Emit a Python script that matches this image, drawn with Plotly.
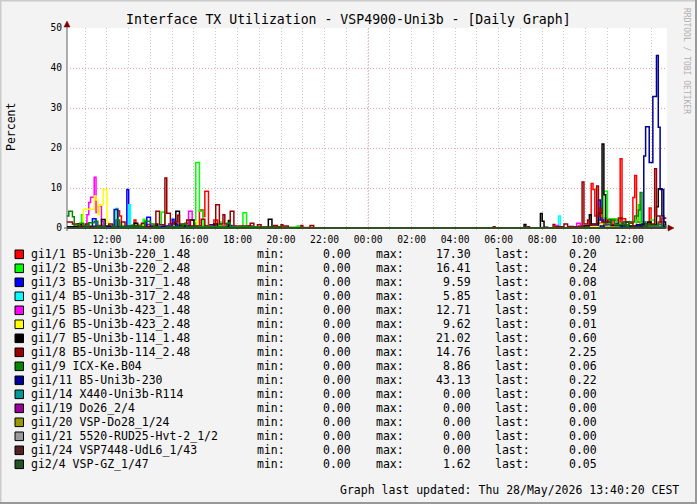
import plotly.graph_objects as go

# ---------------- data ----------------
names = ["gi1/1 B5-Uni3b-220_1.48", "gi1/2 B5-Uni3b-220_2.48", "gi1/3 B5-Uni3b-317_1.48",
         "gi1/4 B5-Uni3b-317_2.48", "gi1/5 B5-Uni3b-423_1.48", "gi1/6 B5-Uni3b-423_2.48",
         "gi1/7 B5-Uni3b-114_1.48", "gi1/8 B5-Uni3b-114_2.48", "gi1/9 ICX-Ke.B04",
         "gi1/11 B5-Uni3b-230", "gi1/14 X440-Uni3b-R114", "gi1/19 Do26_2/4",
         "gi1/20 VSP-Do28_1/24", "gi1/21 5520-RUD25-Hvt-2_1/2", "gi1/24 VSP7448-UdL6_1/43",
         "gi2/4 VSP-GZ_1/47"]
colors = ["#FF0000", "#00FF00", "#0000FF", "#00FFFF", "#FF00FF", "#FFFF00", "#000000", "#990000",
          "#008800", "#000099", "#009999", "#990099", "#999900", "#999999", "#552222", "#225522"]
mins = [0.00] * 16
maxs = [17.30, 16.41, 9.59, 5.85, 12.71, 9.62, 21.02, 14.76, 8.86, 43.13, 0.00, 0.00, 0.00, 0.00, 0.00, 1.62]
lasts = [0.20, 0.24, 0.08, 0.01, 0.59, 0.01, 0.60, 2.25, 0.06, 0.22, 0.00, 0.00, 0.00, 0.00, 0.00, 0.05]

gi1_1 = [("27 10:10",0.3),("27 10:30",0.8),("27 10:40",0.3),("27 11:35",0.6),("27 11:50",0.3),("27 12:30",4.3),
         ("27 12:35",3.0),("27 12:40",0.4),("27 13:15",2.0),("27 13:20",0.5),("27 13:50",0.9),("27 14:00",0.3),
         ("27 14:50",1.0),("27 15:00",0.4),("27 15:35",1.2),("27 15:45",0.4),("27 16:15",4.5),("27 16:25",2.9),
         ("27 16:30",9.2),("27 16:40",0.8),("27 16:55",2.0),("27 17:05",0.5),("27 17:30",1.0),("27 17:40",0.3),
         ("27 18:30",0.5),("27 18:40",0.2),("27 19:50",0.3),("27 20:00",0.1),("27 21:30",0.0),("28 09:40",0.5),
         ("28 09:55",0.2),("28 10:15",11.1),("28 10:20",9.6),("28 10:25",3.0),("28 10:30",1.2),("28 10:45",2.5),
         ("28 10:55",0.8),("28 11:15",2.0),("28 11:30",0.6),("28 11:35",17.3),("28 11:40",2.3),("28 11:50",0.6),
         ("28 12:00",1.2),("28 12:10",7.6),("28 12:15",13.1),("28 12:20",1.5),("28 12:30",0.5),("28 12:55",5.0),
         ("28 13:00",0.8),("28 13:20",1.5),("28 13:30",0.6),("28 13:40",0.2)]
gi1_2 = [("27 10:10",0.2),("27 10:50",3.3),("27 10:55",0.5),("27 11:30",0.3),("27 12:20",0.8),("27 12:25",4.9),
         ("27 12:30",0.5),("27 13:05",0.8),("27 13:40",2.2),("27 13:45",0.3),("27 14:30",4.0),("27 14:40",0.5),
         ("27 15:20",0.8),("27 15:30",0.3),("27 16:05",16.4),("27 16:15",4.2),("27 16:25",0.6),("27 17:10",1.5),
         ("27 17:15",0.3),("27 18:15",3.8),("27 18:25",0.2),("27 20:45",0.5),("27 20:50",0.0),("28 09:50",0.3),
         ("28 10:35",2.0),("28 10:50",9.2),("28 11:00",2.3),("28 11:25",1.2),("28 11:45",0.5),("28 12:20",2.0),
         ("28 12:25",5.8),("28 12:30",1.0),("28 13:00",2.0),("28 13:10",0.8),("28 13:40",0.24)]
gi1_3 = [("27 10:10",0.2),("27 10:40",1.0),("27 10:50",0.3),("27 11:20",2.3),("27 11:30",0.4),("27 12:20",4.6),
         ("27 12:30",0.3),("27 12:55",9.6),("27 13:00",0.4),("27 13:50",2.7),("27 14:00",0.5),("27 15:00",2.2),
         ("27 15:05",1.0),("27 15:15",0.3),("27 16:45",0.8),("27 16:55",0.2),("27 17:35",0.6),("27 17:45",0.1),
         ("27 19:00",0.0),("28 09:15",0.4),("28 09:25",0.0),("28 10:00",0.5),("28 10:35",7.0),("28 10:40",2.0),
         ("28 10:50",0.5),("28 11:20",1.0),("28 11:30",0.3),("28 12:20",0.6),("28 12:40",0.3),("28 13:40",0.08)]
gi1_4 = [("27 10:10",0.1),("27 11:00",0.5),("27 11:10",0.1),("27 13:00",5.8),("27 13:05",0.5),("27 13:15",0.1),
         ("27 14:20",0.6),("27 14:30",0.1),("27 16:10",0.5),("27 16:20",0.1),("27 18:00",0.0),("28 08:45",3.0),
         ("28 08:50",0.0),("28 10:00",0.2),("28 11:00",0.5),("28 11:10",0.1),("28 13:40",0.01)]
gi1_5 = [("27 10:10",0.1),("27 11:05",3.3),("27 11:10",6.4),("27 11:15",7.7),("27 11:25",12.7),("27 11:30",3.9),
         ("27 11:35",5.4),("27 11:45",1.7),("27 11:50",0.3),("27 13:10",0.5),("27 13:20",0.1),("27 15:45",4.2),
         ("27 15:55",2.0),("27 16:00",0.3),("27 16:30",0.1),("27 18:00",0.0),("28 08:40",0.6),("28 08:45",0.0),
         ("28 09:35",1.2),("28 09:45",0.2),("28 10:50",0.5),("28 11:00",0.1),("28 13:20",0.8),("28 13:30",0.3),
         ("28 13:40",0.59)]
gi1_6 = [("27 10:10",0.1),("27 10:55",4.7),("27 11:25",8.0),("27 11:30",7.0),("27 11:35",3.3),("27 11:40",5.8),
         ("27 11:50",9.6),("27 12:00",1.5),("27 12:05",0.3),("27 13:30",0.6),("27 13:40",0.1),("27 16:00",1.6),
         ("27 16:10",0.3),("27 16:40",0.5),("27 16:50",0.1),("27 18:00",0.0),("28 09:40",0.3),("28 10:40",1.0),
         ("28 10:50",0.3),("28 11:20",0.6),("28 11:30",0.1),("28 13:40",0.01)]
gi1_7 = [("27 10:10",0.3),("27 10:40",1.0),("27 10:50",0.2),("27 11:45",2.1),("27 11:55",0.5),("27 12:10",0.2),
         ("27 13:15",1.2),("27 13:25",0.3),("27 14:15",1.0),("27 14:20",0.3),("27 15:10",4.2),("27 15:20",0.5),
         ("27 15:50",2.0),("27 16:00",0.3),("27 16:55",1.0),("27 17:05",0.3),("27 17:35",1.9),("27 17:40",0.3),
         ("27 18:30",0.4),("27 18:40",0.1),("27 19:25",2.2),("27 19:35",0.2),("27 20:00",0.0),("28 07:10",0.9),
         ("28 07:15",0.0),("28 07:55",3.6),("28 08:00",1.7),("28 08:05",0.2),("28 08:15",0.0),("28 09:55",0.5),
         ("28 10:10",3.3),("28 10:15",1.0),("28 10:35",3.7),("28 10:45",21.0),("28 10:50",8.3),("28 10:55",1.5),
         ("28 11:10",0.6),("28 11:50",1.5),("28 12:00",0.5),("28 12:35",1.0),("28 12:50",1.5),("28 13:00",0.8),
         ("28 13:15",5.3),("28 13:20",9.8),("28 13:30",3.0),("28 13:35",1.5),("28 13:40",0.6)]
gi1_8 = [("27 10:10",1.5),("27 10:25",1.0),("27 10:40",0.5),("27 11:00",1.0),("27 11:10",0.4),("27 12:05",1.0),
         ("27 12:15",0.3),("27 12:40",1.5),("27 12:50",0.5),("27 13:35",1.2),("27 13:45",0.4),("27 14:15",4.2),
         ("27 14:25",0.8),("27 14:40",12.5),("27 14:45",3.7),("27 14:55",1.0),("27 15:05",1.5),("27 15:15",3.2),
         ("27 15:20",1.0),("27 15:40",2.0),("27 15:50",0.5),("27 16:20",2.2),("27 16:30",0.5),("27 17:00",5.8),
         ("27 17:10",1.0),("27 17:20",3.3),("27 17:25",1.0),("27 17:40",4.2),("27 17:50",0.5),("27 18:35",1.2),
         ("27 18:45",0.3),("27 18:55",0.8),("27 19:05",0.2),("27 19:40",0.6),("27 19:50",0.2),("27 20:00",0.8),
         ("27 20:05",0.5),("27 20:15",0.5),("27 20:20",0.0),("27 20:55",0.6),("27 21:00",0.0),("27 21:20",0.6),
         ("27 21:30",0.0),("28 05:45",0.3),("28 05:50",0.0),("28 07:20",0.3),("28 07:25",0.0),("28 08:30",0.9),
         ("28 08:35",0.3),("28 09:00",1.0),("28 09:10",0.3),("28 09:50",11.5),("28 09:55",1.0),("28 10:05",2.0),
         ("28 10:10",0.8),("28 10:30",10.5),("28 10:35",3.0),("28 10:40",5.0),("28 10:45",1.5),("28 11:00",2.0),
         ("28 11:10",0.8),("28 11:30",2.5),("28 11:40",0.8),("28 12:00",1.5),("28 12:10",0.5),("28 12:45",1.0),
         ("28 13:10",14.8),("28 13:15",3.0),("28 13:25",1.5),("28 13:30",2.5),("28 13:40",2.25)]
gi1_9 = [("27 10:10",3.0),("27 10:15",4.2),("27 10:25",2.8),("27 10:30",0.8),("27 10:45",1.2),("27 10:55",0.5),
         ("27 11:10",1.3),("27 11:25",1.7),("27 11:35",0.4),("27 12:25",2.0),("27 12:35",0.4),("27 13:45",1.7),
         ("27 14:00",1.0),("27 14:10",0.3),("27 15:30",1.0),("27 15:40",0.3),("27 17:30",1.2),("27 17:40",0.3),
         ("27 19:00",0.2),("27 20:00",0.0),("28 10:50",1.0),("28 11:10",2.0),("28 11:20",0.8),("28 12:00",1.5),
         ("28 12:15",3.0),("28 12:25",4.5),("28 12:30",8.9),("28 12:35",1.5),("28 12:45",0.6),("28 13:20",1.0),
         ("28 13:30",0.4),("28 13:40",0.06)]
gi1_11 = [("27 10:10",0.1),("27 12:00",0.3),("27 12:10",0.1),("27 14:30",0.3),("27 14:40",0.1),("27 16:00",0.0),
          ("28 10:40",0.5),("28 10:50",0.1),("28 11:40",0.5),("28 11:50",0.1),("28 12:20",0.8),("28 12:30",0.3),
          ("28 12:40",18.0),("28 12:45",25.3),("28 12:55",16.4),("28 13:05",32.9),("28 13:15",43.1),("28 13:20",25.2),
          ("28 13:25",9.6),("28 13:35",0.22),("28 13:40",0.22)]
gi1_14 = [("27 10:10",0.0),("28 13:40",0.0)]
gi1_19 = [("27 10:10",0.0),("28 13:40",0.0)]
gi1_20 = [("27 10:10",0.0),("28 13:40",0.0)]
gi1_21 = [("27 10:10",0.0),("28 13:40",0.0)]
gi1_24 = [("27 10:10",0.0),("28 13:40",0.0)]
gi2_4 = [("27 10:10",0.0),("27 11:30",0.3),("27 11:40",0.0),("27 16:00",0.4),("27 16:10",0.0),("28 11:45",1.6),
         ("28 11:50",0.2),("28 12:40",0.5),("28 12:50",0.1),("28 13:40",0.05)]

series = [gi1_1, gi1_2, gi1_3, gi1_4, gi1_5, gi1_6, gi1_7, gi1_8, gi1_9, gi1_11,
          gi1_14, gi1_19, gi1_20, gi1_21, gi1_24, gi2_4]

x_start, x_end = "2026-05-27 10:10", "2026-05-28 13:44"
title = "Interface TX Utilization - VSP4900-Uni3b - [Daily Graph]"
footer = "Graph last updated: Thu 28/May/2026 13:40:20 CEST"


def ts(s):
    d, hm = s.split()
    return f"2026-05-{d} {hm}"


# ---------------- layout geometry ----------------
W, H = 697, 504
L, R, T, B = 67, 667, 28, 230
MONO = "DejaVu Sans Mono"
FS = 11.5


def px(x):
    return (x - L) / (R - L)


def py(y):
    return (B - y) / (B - T)


fig = go.Figure()
for pts, c in zip(series, colors):
    fig.add_trace(go.Scatter(x=[ts(t) for t, _ in pts], y=[v for _, v in pts], mode="lines",
                             line=dict(color=c, width=1.5, shape="hv"), hoverinfo="skip",
                             showlegend=False))

GRID = "#C8C8C8"
MGRID = "#F0A0A0"
fig.update_layout(
    width=W, height=H, autosize=False,
    margin=dict(l=L, r=W - R, t=T, b=H - B, pad=0),
    paper_bgcolor="#F3F3F3", plot_bgcolor="#FFFFFF",
    showlegend=False,
    xaxis=dict(type="date", range=[x_start, x_end], tickformat="%H:%M", dtick=7200000,
               tick0="2026-05-27 00:00", showgrid=True, gridcolor=GRID, griddash="1px,2px", gridwidth=1,
               minor=dict(dtick=3600000, tick0="2026-05-27 00:00", showgrid=True, gridcolor=GRID,
                          griddash="1px,2px", gridwidth=1),
               ticks="", showline=False, zeroline=False,
               tickfont=dict(family=MONO, size=9.6, color="#000000"), ticklabelstandoff=2),
    yaxis=dict(range=[-0.5, 50], dtick=10, tick0=0, showgrid=True, gridcolor=MGRID, griddash="1px,2px",
               gridwidth=1, zeroline=False, showline=False, ticks="",
               tickfont=dict(family=MONO, size=9.6, color="#000000"), ticklabelstandoff=4),
)

shapes = []
ann = []
# midnight major grid line
shapes.append(dict(type="line", xref="x", yref="paper", x0="2026-05-28 00:00", x1="2026-05-28 00:00",
                   y0=py(228), y1=1, line=dict(color=MGRID, width=1, dash="1px,2px"), layer="between"))
# axes
AX = "#606060"
shapes.append(dict(type="line", xref="paper", yref="paper", x0=px(67), x1=px(67), y0=py(231), y1=py(23),
                   line=dict(color=AX, width=1), layer="between"))
shapes.append(dict(type="line", xref="paper", yref="paper", x0=px(64), x1=px(671), y0=py(228), y1=py(228),
                   line=dict(color=AX, width=1), layer="between"))


def tri(points):
    p = " L ".join(f"{px(a)},{py(b)}" for a, b in points)
    return "M " + p + " Z"


shapes.append(dict(type="path", xref="paper", yref="paper", path=tri([(64, 27), (70, 27), (67, 21)]),
                   fillcolor="#7F0000", line=dict(color="#7F0000", width=0.5), layer="above"))
shapes.append(dict(type="path", xref="paper", yref="paper", path=tri([(668, 225), (668, 231), (674, 228)]),
                   fillcolor="#7F0000", line=dict(color="#7F0000", width=0.5), layer="above"))
# outer shade border
shapes.append(dict(type="line", xref="paper", yref="paper", x0=px(0.5), x1=px(0.5), y0=py(0), y1=py(504),
                   line=dict(color="#CBCBCB", width=2)))
shapes.append(dict(type="line", xref="paper", yref="paper", x0=px(0), x1=px(697), y0=py(0.5), y1=py(0.5),
                   line=dict(color="#CBCBCB", width=2)))
shapes.append(dict(type="line", xref="paper", yref="paper", x0=px(696), x1=px(696), y0=py(0), y1=py(504),
                   line=dict(color="#999999", width=2)))
shapes.append(dict(type="line", xref="paper", yref="paper", x0=px(0), x1=px(697), y0=py(503), y1=py(503),
                   line=dict(color="#999999", width=2)))

# title, axis label, watermark, footer
ann.append(dict(text=title, x=px(348), y=py(19.5), xref="paper", yref="paper", showarrow=False,
                xanchor="center", yanchor="middle", font=dict(family=MONO, size=13.2, color="#000000")))
ann.append(dict(text="Percent", x=px(10.5), y=py(127.5), xref="paper", yref="paper", showarrow=False,
                textangle=-90, xanchor="center", yanchor="middle",
                font=dict(family=MONO, size=FS, color="#000000")))
ann.append(dict(text="RRDTOOL / TOBI OETIKER", x=px(687), y=py(61), xref="paper", yref="paper",
                showarrow=False, textangle=90, xanchor="center", yanchor="middle",
                font=dict(family=MONO, size=8, color="#B0B0B0")))
ann.append(dict(text=footer, x=px(681), y=py(490), xref="paper", yref="paper", showarrow=False,
                xanchor="right", yanchor="middle", font=dict(family=MONO, size=FS, color="#000000")))

# legend
for i, (n, c, mn, mx, la) in enumerate(zip(names, colors, mins, maxs, lasts)):
    yc = 254.3 + 14 * i
    shapes.append(dict(type="rect", xref="paper", yref="paper", x0=px(15), x1=px(23.5),
                       y0=py(yc + 4.3), y1=py(yc - 4.3), fillcolor=c, line=dict(color="#000000", width=1),
                       layer="above"))
    items = [(n, 29, "left"), ("min:", 255, "left"), (f"{mn:.2f}", 353, "right"),
             ("max:", 374, "left"), (f"{mx:.2f}", 473, "right"), ("last:", 493, "left"),
             (f"{la:.2f}", 599, "right")]
    for txt, xx, anc in items:
        ann.append(dict(text=txt, x=px(xx), y=py(yc), xref="paper", yref="paper", showarrow=False,
                        xanchor=anc, yanchor="middle", font=dict(family=MONO, size=FS, color="#000000")))

fig.update_layout(shapes=shapes, annotations=ann)
fig.write_html("out.html")
